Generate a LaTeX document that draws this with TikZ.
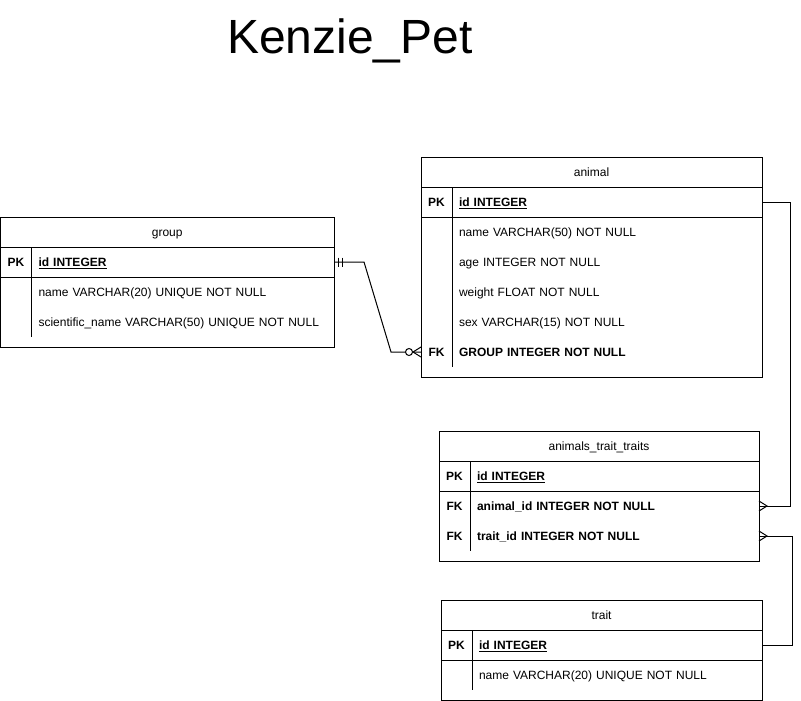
\documentclass[tikz,border=0pt]{standalone}
\usepackage{fontspec}
\setmainfont{Liberation Sans}
\usetikzlibrary{positioning}
\tikzstyle{frame} = [rectangle, draw, anchor=north west, inner sep=0pt, outer sep=0pt]
\tikzstyle{header} = [frame, minimum height=30pt, text height=8.6pt, text depth=0pt]
\tikzstyle{field} = [anchor=west, align=left, inner sep=0pt, outer sep=0pt, minimum height=30pt, text height=8.6pt, text depth=0pt]
\tikzstyle{keyfield} = [field, font=\fontsize{12pt}{14pt}\selectfont\bfseries]
\tikzstyle{tag} = [inner sep=0pt, text height=8.6pt, text depth=0pt, font=\fontsize{12pt}{14pt}\selectfont\bfseries]
\tikzstyle{link} = [draw]
\tikzset{
    onebar/.pic={\draw (4,-4.5) -- (4,4.5) (8,-4.5) -- (8,4.5);},
    crowfoot/.pic={\draw (0,-5) -- (8,0) -- (0,5);},
    zerocrow/.pic={\draw (0,-5) -- (8,0) -- (0,5); \draw[fill=white] (12,0) circle (3.5);}
}

\begin{document}
\begin{tikzpicture}[
    x=1pt, y=-1pt,
    line width=1pt,
    every node/.style={font=\fontsize{12pt}{14pt}\selectfont}
]
    \useasboundingbox (0,0) rectangle (801,701);

    \node[anchor=base, font=\fontsize{48pt}{56pt}\selectfont] (title) at (350,54) {Kenzie\_Pet};

    % group
    \node[frame, minimum width=333.5pt, minimum height=130pt] (group) at (0.5,217) {};
    \node[header, minimum width=333.5pt] (groupHead) at (group.north west) {group};
    \node[keyfield, text width=295.5pt, below=0pt of groupHead.south east, anchor=north east] (groupId) {\underline{id INTEGER}};
    \node[field, text width=295.5pt, below=0pt of groupId] (groupName) {name VARCHAR(20) UNIQUE NOT NULL};
    \node[field, text width=295.5pt, below=0pt of groupName] (groupSci) {scientific\_name VARCHAR(50) UNIQUE NOT NULL};
    \node[tag] (groupPk) at ([xshift=-22.5pt]groupId.west) {PK};
    \draw (group.west |- groupId.south) -- (groupId.south east);
    \draw ([xshift=31pt]groupHead.south west) -- ([xshift=31pt, yshift=10pt]group.south west);

    % animal
    \node[frame, minimum width=341pt, minimum height=220pt] (animal) at (421,157) {};
    \node[header, minimum width=341pt] (animalHead) at (animal.north west) {animal};
    \node[keyfield, text width=303pt, below=0pt of animalHead.south east, anchor=north east] (animalId) {\underline{id INTEGER}};
    \node[field, text width=303pt, below=0pt of animalId] (animalName) {name VARCHAR(50) NOT NULL};
    \node[field, text width=303pt, below=0pt of animalName] (animalAge) {age INTEGER NOT NULL};
    \node[field, text width=303pt, below=0pt of animalAge] (animalWeight) {weight FLOAT NOT NULL};
    \node[field, text width=303pt, below=0pt of animalWeight] (animalSex) {sex VARCHAR(15) NOT NULL};
    \node[keyfield, text width=303pt, below=0pt of animalSex] (animalGroup) {GROUP INTEGER NOT NULL};
    \node[tag] (animalPk) at ([xshift=-22.5pt]animalId.west) {PK};
    \node[tag] (animalFk) at ([xshift=-22.5pt]animalGroup.west) {FK};
    \draw (animal.west |- animalId.south) -- (animalId.south east);
    \draw ([xshift=31pt]animalHead.south west) -- ([xshift=31pt, yshift=10pt]animal.south west);

    % animals_trait_traits
    \node[frame, minimum width=320pt, minimum height=130pt] (link) at (439,431) {};
    \node[header, minimum width=320pt] (linkHead) at (link.north west) {animals\_trait\_traits};
    \node[keyfield, text width=282pt, below=0pt of linkHead.south east, anchor=north east] (linkId) {\underline{id INTEGER}};
    \node[keyfield, text width=282pt, below=0pt of linkId] (linkAnimal) {animal\_id INTEGER NOT NULL};
    \node[keyfield, text width=282pt, below=0pt of linkAnimal] (linkTrait) {trait\_id INTEGER NOT NULL};
    \node[tag] (linkPk) at ([xshift=-22.5pt]linkId.west) {PK};
    \node[tag] (linkFkA) at ([xshift=-22.5pt]linkAnimal.west) {FK};
    \node[tag] (linkFkT) at ([xshift=-22.5pt]linkTrait.west) {FK};
    \draw (link.west |- linkId.south) -- (linkId.south east);
    \draw ([xshift=31pt]linkHead.south west) -- ([xshift=31pt, yshift=10pt]link.south west);

    % trait
    \node[frame, minimum width=321pt, minimum height=100pt] (trait) at (441,600) {};
    \node[header, minimum width=321pt] (traitHead) at (trait.north west) {trait};
    \node[keyfield, text width=283pt, below=0pt of traitHead.south east, anchor=north east] (traitId) {\underline{id INTEGER}};
    \node[field, text width=283pt, below=0pt of traitId] (traitName) {name VARCHAR(20) UNIQUE NOT NULL};
    \node[tag] (traitPk) at ([xshift=-22.5pt]traitId.west) {PK};
    \draw (trait.west |- traitId.south) -- (traitId.south east);
    \draw ([xshift=31pt]traitHead.south west) -- ([xshift=31pt, yshift=10pt]trait.south west);

    % relations
    \path[link] (groupId.east) -- ++(30,0) -- ++(27,90) -- (animal.west |- animalGroup);
    \pic at (groupId.east) {onebar};
    \pic[xscale=-1] at (animal.west |- animalGroup) {zerocrow};

    \path[link] (animalId.east) -- ++(28,0) |- (linkAnimal.east);
    \pic at (linkAnimal.east) {crowfoot};

    \path[link] (traitId.east) -- ++(30,0) |- (linkTrait.east);
    \pic at (linkTrait.east) {crowfoot};
\end{tikzpicture}
\end{document}
